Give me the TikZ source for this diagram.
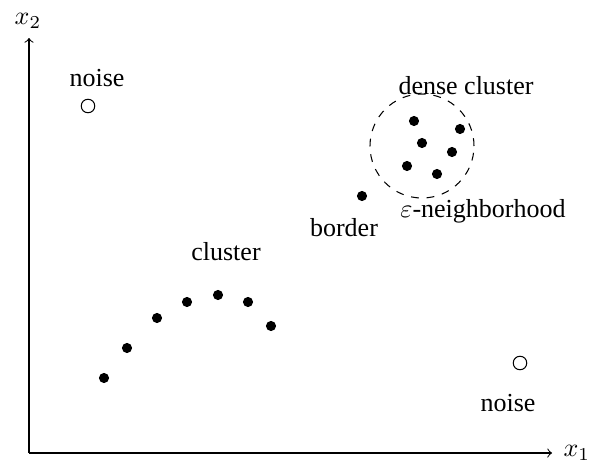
\documentclass[tikz,border=0pt]{standalone}
\usepackage{fontspec}
\setmainfont{Liberation Serif}
\begin{document}
\begin{tikzpicture}[x=0.3846pt,y=-0.3846pt,
  pt/.style={circle,fill=black,inner sep=0pt,minimum size=3.9pt},
  noisept/.style={circle,draw=black,fill=white,inner sep=0pt,minimum size=5.2pt,line width=0.4pt},
  lbl/.style={inner sep=0pt,font=\normalsize},
  axis/.style={->,line width=0.4pt}]
\useasboundingbox (0,0) rectangle (592,462);
% axes
\coordinate (O) at (29,453);
\coordinate (xe) at (552,453);
\coordinate (ye) at (29,38);
\draw[axis] (O) -- (xe);
\draw[axis] (O) -- (ye);
\node[lbl,anchor=west] (x1) at (563,453) {$x_1$};
\node[lbl,anchor=south] (x2) at (28,29) {$x_2$};
% cluster
\node[pt] (c1) at (104,378) {};
\node[pt] (c2) at (127,348) {};
\node[pt] (c3) at (157,318) {};
\node[pt] (c4) at (187,302) {};
\node[pt] (c5) at (218,295) {};
\node[pt] (c6) at (248,302) {};
\node[pt] (c7) at (271,326) {};
\node[lbl] (clab) at (226,252) {cluster};
% dense cluster
\node[pt] (d1) at (414,121) {};
\node[pt] (d2) at (460,129) {};
\node[pt] (d3) at (422,143) {};
\node[pt] (d4) at (452,152) {};
\node[pt] (d5) at (407,166) {};
\node[pt] (d6) at (437,174) {};
\node[circle,draw,dashed,inner sep=0pt,minimum size=40pt,line width=0.4pt] (eps) at (422,146) {};
\node[lbl] (dlab) at (466,86) {dense cluster};
\node[lbl] (elab) at (483,211) {$\varepsilon$-neighborhood};
% border
\node[pt] (b) at (362,196) {};
\node[lbl] (blab) at (344,228) {border};
% noise
\node[noisept] (n1) at (88,106) {};
\node[lbl] (n1lab) at (97,78) {noise};
\node[noisept] (n2) at (520,363) {};
\node[lbl] (n2lab) at (508,403) {noise};
\end{tikzpicture}
\end{document}
